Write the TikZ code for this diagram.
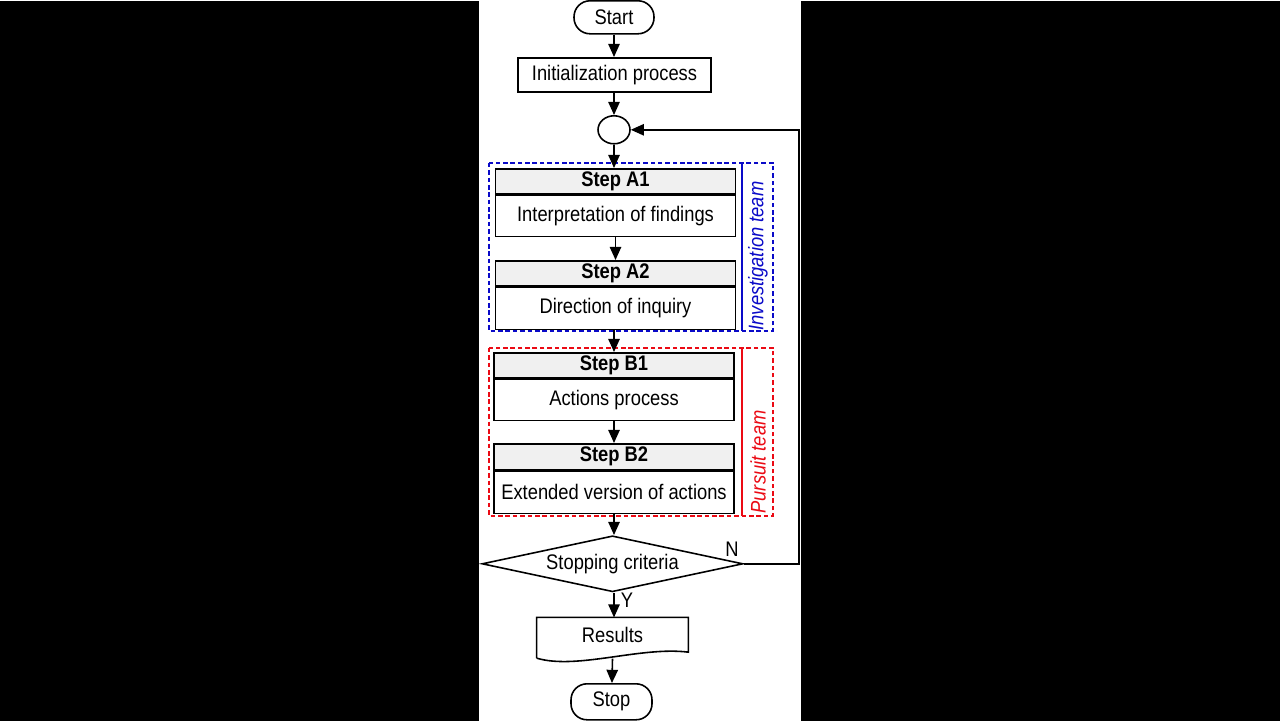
\documentclass[tikz,border=0pt]{standalone}
\usepackage{fontspec}
\setmainfont{Liberation Sans}[FakeStretch=0.87]
\usetikzlibrary{shapes.geometric,arrows.meta}
\definecolor{teamblue}{RGB}{10,10,200}
\definecolor{teamred}{RGB}{235,10,20}
\definecolor{headgray}{RGB}{240,240,240}
\newcommand{\midX}{614}
\newcommand{\backX}{799}
\newcommand{\sepX}{742}

\begin{document}
\begin{tikzpicture}[x=0.02cm,y=-0.02cm,
        every node/.style={font=\fontsize{12}{14}\selectfont},
        arr/.style={line width=0.9pt,-{Triangle[length=7.5pt,width=6.5pt]}},
        term/.style={draw,line width=0.9pt,rounded corners=0.32cm,inner sep=0pt},
        proc/.style={draw,line width=0.9pt,inner sep=0pt},
        stephead/.style={draw,line width=0.9pt,fill=headgray,minimum width=4.8cm,minimum height=0.5cm,inner sep=0pt,font=\fontsize{12}{14}\selectfont\bfseries},
        stepbody/.style={draw,line width=0.9pt,minimum width=4.8cm,minimum height=0.84cm,inner sep=0pt,anchor=north},
        teambox/.style={line width=0.9pt,dash pattern=on 2.6pt off 1.6pt},
        teamlabel/.style={rotate=90,anchor=west,inner sep=0pt,font=\fontsize{12}{14}\selectfont\itshape}]

        % Background and white page
        \fill[black] (0,0) rectangle (1280,720);
        \fill[white] (479,0) rectangle (801,720);

        % Team frames
        \draw[teambox,teamblue] (489,162) rectangle (773,330);
        \draw[teamblue,line width=0.9pt] (\sepX,162) -- (\sepX,330);
        \node[teamlabel,teamblue] (teamA) at (758,330) {Investigation team};
        \draw[teambox,teamred] (489,347) rectangle (773,515);
        \draw[teamred,line width=0.9pt] (\sepX,347) -- (\sepX,515);
        \node[teamlabel,teamred] (teamB) at (758,513) {Pursuit team};

        % Start and initialization
        \node[term,minimum width=1.6cm,minimum height=0.66cm] (start) at (\midX,16.5) {Start};
        \node[proc,minimum width=3.86cm,minimum height=0.68cm] (init) at (614.5,74) {Initialization process};
        \node[ellipse,draw,line width=0.9pt,minimum width=0.64cm,minimum height=0.56cm,inner sep=0pt] (join) at (\midX,129) {};

        % Steps of the investigation team
        \node[stephead] (a1h) at (615.5,180.5) {Step A1};
        \node[stepbody,minimum height=0.82cm] (a1) at (a1h.south) {Interpretation of findings};
        \node[stephead] (a2h) at (615.5,272.5) {Step A2};
        \node[stepbody] (a2) at (a2h.south) {Direction of inquiry};

        % Steps of the pursuit team
        \node[stephead] (b1h) at (\midX,364.5) {Step B1};
        \node[stepbody,minimum height=0.82cm] (b1) at (b1h.south) {Actions process};
        \node[stephead,minimum height=0.52cm] (b2h) at (\midX,456) {Step B2};
        \node[stepbody] (b2) at (b2h.south) {Extended version of actions};

        % Decision, results and stop
        \node[diamond,draw,line width=0.9pt,aspect=4.6,minimum width=5.22cm,minimum height=1.12cm,inner sep=0pt] (crit) at (612.5,563) {Stopping criteria};
        \node[minimum width=3.02cm,minimum height=0.68cm,inner sep=0pt] (res) at (612.5,634) {Results};
        \draw[line width=0.9pt] ([yshift=-0.12cm]res.south west) -- (res.north west) -- (res.north east)
            -- (res.south east) .. controls +(-48,-6) and +(40,12) .. ([yshift=-0.12cm]res.south west);
        \node[term,minimum width=1.62cm,minimum height=0.72cm] (stop) at (611.5,701) {Stop};
        \node (nlab) at (732,548) {N};
        \node (ylab) at (627,599) {Y};
        \coordinate (back) at (\backX,129);

        % Connectors
        \draw[arr] (start) -- (start |- init.north);
        \draw[arr] (init) -- (init.south -| join) -- (join);
        \draw[arr] (join) -- (join |- a1h.north);
        \draw[arr] (a1) -- (a2h);
        \draw[arr] (a2.south -| \midX,0) -- (b1h);
        \draw[arr] (b1) -- (b2h);
        \draw[arr] (b2) -- (b2.south |- crit.north);
        \draw[arr] (crit.south -| \midX,0) -- (res.north -| \midX,0);
        \draw[arr] ([yshift=-0.13cm]res.south) -- (stop);
        \draw[arr] (crit.east) -| (back) -- (join.east);
\end{tikzpicture}
\end{document}
